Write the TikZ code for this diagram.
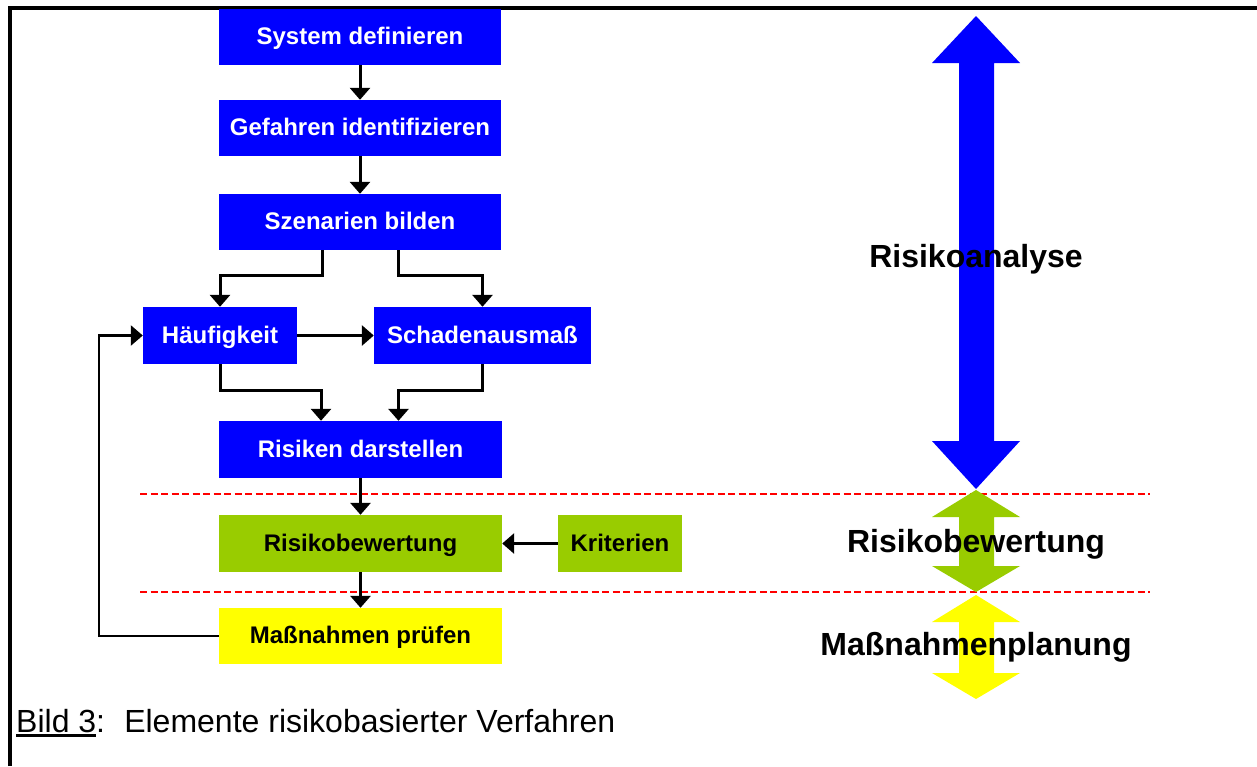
\documentclass[tikz,border=0pt]{standalone}
\usepackage{fontspec}
\setmainfont{Liberation Sans}
\usetikzlibrary{arrows.meta}
\definecolor{boxblue}{RGB}{0,0,255}
\definecolor{boxgreen}{RGB}{153,204,0}
\definecolor{boxyellow}{RGB}{255,255,0}
\newcommand\myul[1]{\setbox0\hbox{#1}\rlap{\rule[-5pt]{\wd0}{3pt}}\box0}
\tikzset{
  box/.style={inner sep=0pt, minimum height=56pt, text height=19pt, text depth=4pt, font=\fontsize{24}{24}\selectfont\bfseries},
  bluebox/.style={box, fill=boxblue, text=white},
  greenbox/.style={box, fill=boxgreen, text=black},
  yellowbox/.style={box, fill=boxyellow, text=black},
  arr/.style={line width=3pt, -{Triangle[width=20pt,length=12pt]}},
  fb/.style={line width=2.5pt, -{Triangle[width=20pt,length=12pt]}},
  sep/.style={red, line width=2.5pt, dash pattern=on 7pt off 3.5pt},
  biglabel/.style={font=\fontsize{32}{32}\selectfont\bfseries, inner sep=0pt, anchor=base}
}
\begin{document}
\begin{tikzpicture}[x=1pt,y=1pt]
\useasboundingbox (0,0) rectangle (1257,-766);
% frame
\draw[line width=3.5pt] (10,-766) -- (10,-8) -- (1257,-8);
% separators
\draw[sep] (140,-494) -- (1150,-494);
\draw[sep] (140,-592) -- (1150,-592);
% big arrows
\fill[boxblue] (976,-16) -- (1020,-63) -- (994,-63) -- (994,-441) -- (1020,-441) -- (976,-489) -- (932,-441) -- (959,-441) -- (959,-63) -- (932,-63) -- cycle;
\fill[boxgreen] (976,-490) -- (1020,-517) -- (994,-517) -- (994,-566) -- (1020,-566) -- (976,-592) -- (932,-566) -- (959,-566) -- (959,-517) -- (932,-517) -- cycle;
\fill[boxyellow] (976,-595) -- (1020,-622) -- (994,-622) -- (994,-673) -- (1020,-673) -- (976,-699) -- (932,-673) -- (959,-673) -- (959,-622) -- (932,-622) -- cycle;
\node[biglabel] (lra) at (976,-267) {Risikoanalyse};
\node[biglabel] (lrb) at (976,-552) {Risikobewertung};
\node[biglabel] (lmp) at (976,-655) {Maßnahmenplanung};
% boxes
\node[bluebox, minimum width=282pt] (sys) at (360,-37) {System definieren};
\node[bluebox, minimum width=282pt] (gef) at (360,-128) {Gefahren identifizieren};
\node[bluebox, minimum width=282pt] (sze) at (360,-222) {Szenarien bilden};
\node[bluebox, minimum width=154pt, minimum height=57pt] (hae) at (220,-335.5) {Häufigkeit};
\node[bluebox, minimum width=217pt, minimum height=57pt] (sch) at (482.5,-335.5) {Schadenausmaß};
\node[bluebox, minimum width=283pt, minimum height=57pt] (ris) at (360.5,-449.5) {Risiken darstellen};
\node[greenbox, minimum width=283pt, minimum height=57pt] (bew) at (360.5,-543.5) {Risikobewertung};
\node[greenbox, minimum width=124pt, minimum height=57pt] (krit) at (620,-543.5) {Kriterien};
\node[yellowbox, minimum width=283pt] (mas) at (360.5,-636) {Maßnahmen prüfen};
% connectors
\draw[arr] (sys) -- (gef);
\draw[arr] (gef) -- (sze);
\draw[arr] ([xshift=-38pt]sze.south) -- ++(0,-25) -| (hae.north);
\draw[arr] ([xshift=38pt]sze.south) -- ++(0,-25) -| (sch.north);
\draw[arr] (hae) -- (sch);
\draw[arr] (hae.south) -- ++(0,-26) -| ([xshift=-39.5pt]ris.north);
\draw[arr] (sch.south) -- ++(0,-26) -| ([xshift=38pt]ris.north);
\draw[arr] (ris) -- (bew);
\draw[arr] (krit) -- (bew);
\draw[arr] (bew) -- (mas);
\draw[fb] (mas.west) -- ++(-120,0) |- (hae.west);
% caption
\node[anchor=base west, inner sep=0pt, font=\fontsize{32}{32}\selectfont] (cap) at (16,-732) {\myul{Bild 3}:\hspace{0.6em}Elemente risikobasierter Verfahren};
\end{tikzpicture}
\end{document}
